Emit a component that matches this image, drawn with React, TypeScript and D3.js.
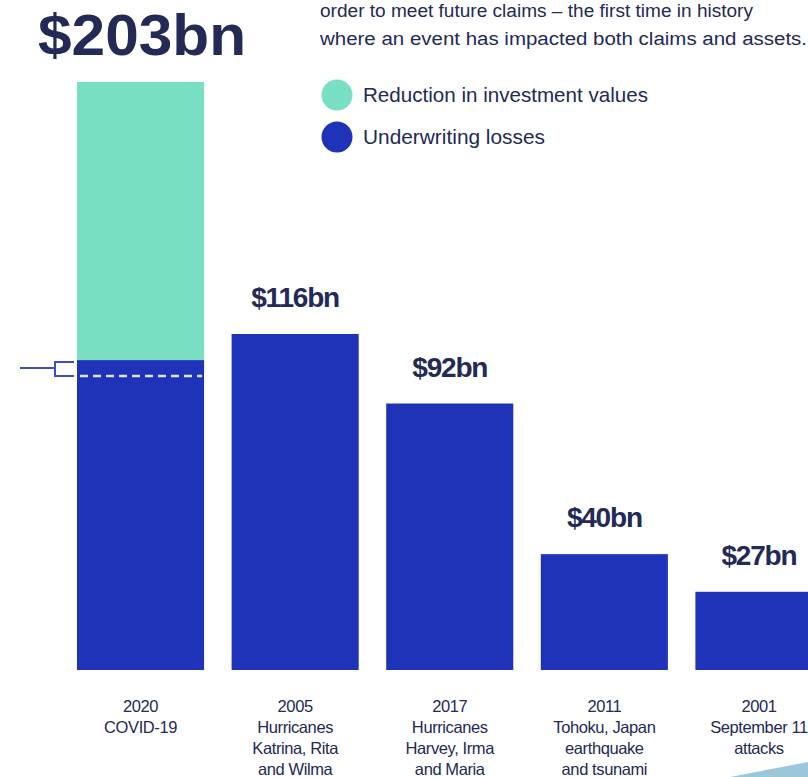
import React from "react";
import * as d3 from "d3";

const years = ["2020", "2005", "2017", "2011", "2001"];
const eventLines = [
  ["COVID-19"],
  ["Hurricanes", "Katrina, Rita", "and Wilma"],
  ["Hurricanes", "Harvey, Irma", "and Maria"],
  ["Tohoku, Japan", "earthquake", "and tsunami"],
  ["September 11", "attacks"],
];
const underwriting = [107, 116, 92, 40, 27];
const investment = [96, 0, 0, 0, 0];
const totals = [203, 116, 92, 40, 27];
const covidMarker = 101.5;
const legendItems = ["Reduction in investment values", "Underwriting losses"];
const introLines = [
  "order to meet future claims \u2013 the first time in history",
  "where an event has impacted both claims and assets.",
];

const W = 808;
const H = 777;
const TEAL = "#78dfc2";
const BLUE = "#1f33b9";
const NAVY = "#222a55";
const FONT = "'Liberation Sans', Arial, sans-serif";

export default function App() {
  const x = d3
    .scaleBand<string>()
    .domain(years)
    .range([77, 822.5])
    .paddingInner(0.178)
    .paddingOuter(0);
  const y = d3.scaleLinear().domain([0, 203]).range([670, 82]);
  const bw = x.bandwidth();

  return (
    <svg
      width={W}
      height={H}
      style={{ position: "absolute", left: 0, top: 0, background: "#fff" }}
      fontFamily={FONT}
    >
      {/* headline */}
      <text x={38} y={55} fontSize={58} fontWeight={700} fill={NAVY} textLength={208} lengthAdjust="spacingAndGlyphs">
        {"$" + totals[0] + "bn"}
      </text>
      {introLines.map((t, i) => (
        <text key={i} x={320} y={17 + i * 28} fontSize={18} fill={NAVY} textLength={i === 0 ? 433 : 487} lengthAdjust="spacingAndGlyphs">
          {t}
        </text>
      ))}

      {/* legend */}
      {legendItems.map((t, i) => (
        <g key={t}>
          <circle cx={337} cy={95 + i * 42} r={15.5} fill={i === 0 ? TEAL : BLUE} />
          <text x={363} y={102 + i * 42} fontSize={21} fill={NAVY} textLength={i === 0 ? 285 : 182} lengthAdjust="spacingAndGlyphs">
            {t}
          </text>
        </g>
      ))}

      {/* bars */}
      {years.map((yr, i) => {
        const x0 = x(yr) as number;
        return (
          <g key={yr}>
            <rect x={x0} y={y(underwriting[i])} width={bw} height={y(0) - y(underwriting[i])} fill={BLUE} />
            {investment[i] > 0 && (
              <rect
                x={x0}
                y={y(underwriting[i] + investment[i])}
                width={bw}
                height={y(underwriting[i]) - y(underwriting[i] + investment[i])}
                fill={TEAL}
              />
            )}
            {i > 0 && (
              <text x={x0 + bw / 2} y={y(totals[i]) - 27} fontSize={28} fontWeight={700} fill={NAVY} textAnchor="middle" letterSpacing={-1.2}>
                {"$" + totals[i] + "bn"}
              </text>
            )}
            <text x={x0 + bw / 2} fontSize={16.5} fill={NAVY} textAnchor="middle" letterSpacing={-0.4}>
              {[yr, ...eventLines[i]].map((l, j) => (
                <tspan key={j} x={x0 + bw / 2} y={712 + j * 21}>
                  {l}
                </tspan>
              ))}
            </text>
          </g>
        );
      })}

      {/* covid marker */}
      {(() => {
        const x0 = x(years[0]) as number;
        const yTop = y(underwriting[0]);
        const yDash = y(covidMarker);
        const yMid = (yTop + yDash) / 2;
        return (
          <g>
            <line x1={x0 + 3} x2={x0 + bw - 2} y1={yDash} y2={yDash} stroke="#dfe3f5" strokeWidth={2.5} strokeDasharray="8 5" />
            <path
              d={`M20,${yMid}H55M74,${yTop + 2}H55V${yDash}H74`}
              fill="none"
              stroke="#3a4fc8"
              strokeWidth={2}
            />
          </g>
        );
      })()}

      {/* corner decoration */}
      <polygon points={`730,${H} ${W},762 ${W},${H}`} fill="#9ac8d8" />
    </svg>
  );
}
